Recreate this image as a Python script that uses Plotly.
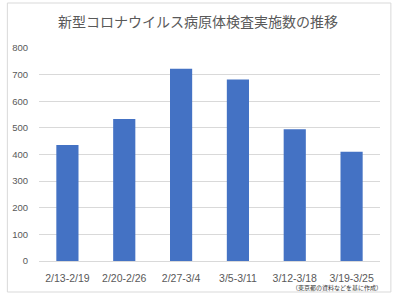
import plotly.graph_objects as go

categories = ["2/13-2/19", "2/20-2/26", "2/27-3/4", "3/5-3/11", "3/12-3/18", "3/19-3/25"]
values = [436, 533, 722, 682, 495, 410]
y_ticks = [0, 100, 200, 300, 400, 500, 600, 700, 800]
title_text = "新型コロナウイルス病原体検査実施数の推移"
source_text = "（東京都の資料などを基に作成）"

W, H = 396, 297
L, R, T, B = 35, 16, 48, 36
pw, ph = W - L - R, H - T - B

def px2paper_x(x):
    return (x - L) / pw

def px2paper_y(y):
    return (H - B - y) / ph

fig = go.Figure(go.Bar(
    x=categories, y=values,
    marker=dict(color="#4472c4", line=dict(width=0)),
))

fig.update_layout(
    width=W, height=H,
    margin=dict(l=L, r=R, t=T, b=B),
    paper_bgcolor="white", plot_bgcolor="white",
    bargap=0.61,
    showlegend=False,
    font=dict(family="Liberation Sans, Noto Sans CJK JP", color="#595959"),
    title=dict(text=title_text, x=0.5, xanchor="center", y=1 - 22 / H, yanchor="middle",
               font=dict(family="Noto Sans CJK JP", size=14, color="#595959")),
    xaxis=dict(showgrid=False, showline=True, linecolor="#d9d9d9", linewidth=1,
               ticks="outside", ticklen=7, tickcolor="rgba(0,0,0,0)",
               tickfont=dict(size=10.5, color="#595959")),
    yaxis=dict(range=[0, 800], tickvals=y_ticks, showgrid=True, gridcolor="#d9d9d9",
               gridwidth=1, zeroline=False, showline=False,
               ticks="outside", ticklen=8, tickcolor="rgba(0,0,0,0)",
               tickfont=dict(size=9.5, color="#595959")),
    shapes=[dict(type="rect", xref="paper", yref="paper",
                 x0=px2paper_x(3), x1=px2paper_x(391),
                 y0=px2paper_y(292), y1=px2paper_y(3),
                 line=dict(color="#d9d9d9", width=1), fillcolor="rgba(0,0,0,0)")],
    annotations=[dict(text=source_text, xref="paper", yref="paper",
                      x=px2paper_x(384), y=px2paper_y(287), xanchor="right", yanchor="middle",
                      showarrow=False,
                      font=dict(family="Noto Sans CJK JP", size=6, color="#333333"))],
)

fig.write_html("out.html")
